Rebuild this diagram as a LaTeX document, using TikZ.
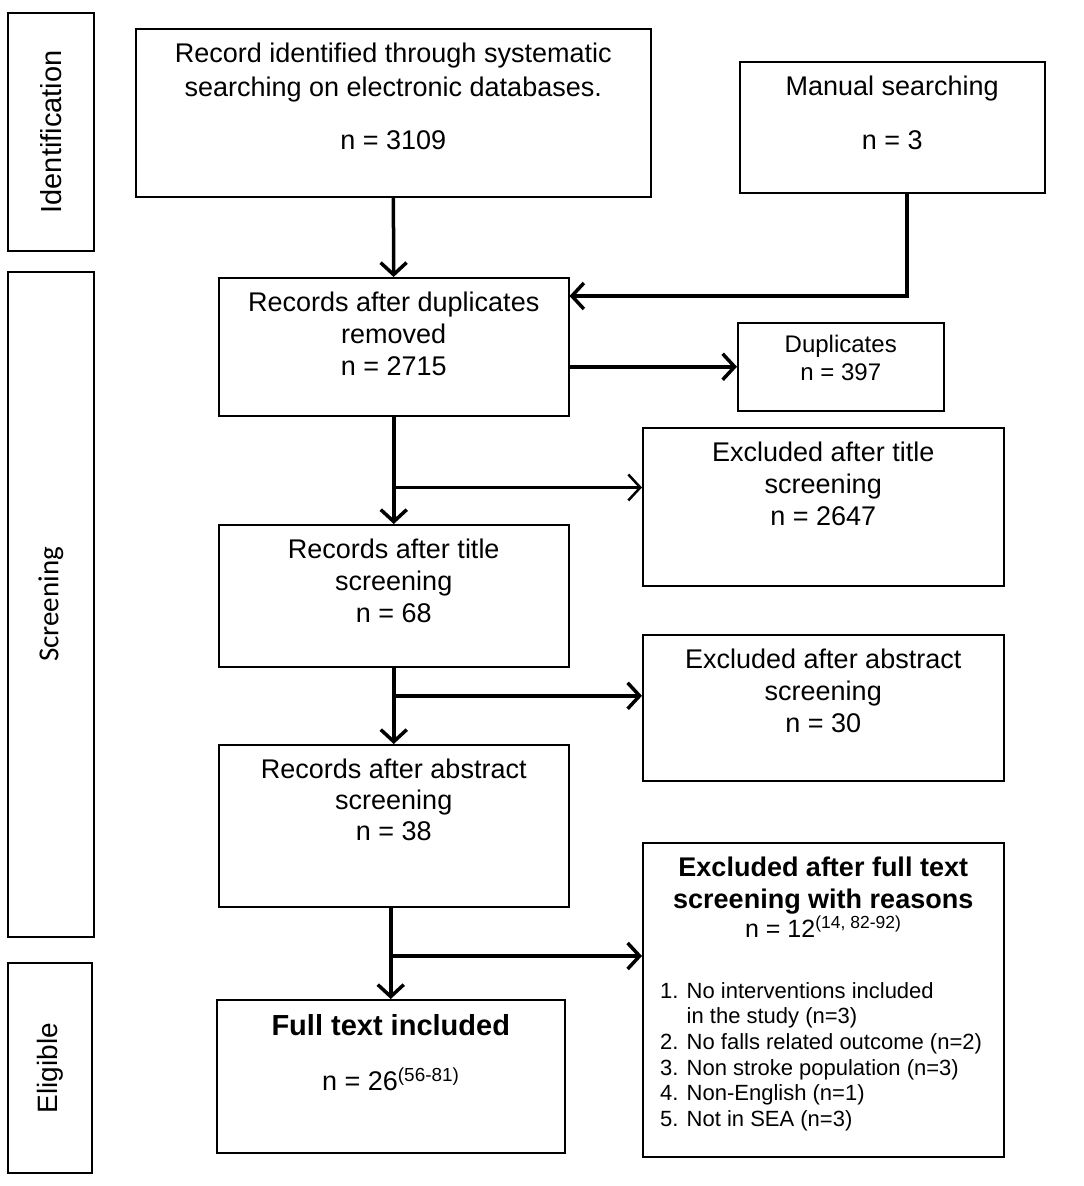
\documentclass[tikz,border=0pt]{standalone}
\usepackage{fontspec}
\setmainfont{Liberation Sans}
\newfontfamily\calibfont{Carlito}
\usetikzlibrary{arrows.meta,calc,positioning}

\tikzset{
box/.style={draw,line width=1.5pt,anchor=north west,inner sep=0pt},
side/.style={draw,line width=1.5pt,inner sep=0pt,rotate=90},
txt/.style={anchor=north,inner sep=0pt,align=center,yshift=-15pt,font=\fontsize{27}{32}\selectfont},
conn/.style={line width=3.5pt,-{Straight Barb[length=12pt,width=26pt]}}
}

\begin{document}
\begin{tikzpicture}[x=1pt,y=-1pt]
\useasboundingbox[fill=white](0,0) rectangle (1084,1186);
\node[side,minimum width=238pt,minimum height=86pt,font=\fontsize{29}{34}\selectfont] (ident) at (51,132) {Identification};
\node[side,minimum width=665pt,minimum height=86pt,font=\calibfont\fontsize{29}{34}\selectfont] (screen) at (51,604.5) {Screening};
\node[side,minimum width=210pt,minimum height=84pt,font=\fontsize{28}{32}\selectfont] (elig) at (50,1068) {Eligible};

\node[box,minimum width=515pt,minimum height=168pt,
label={[txt,font=\fontsize{27}{34}\selectfont]north:Record identified through systematic\\searching on electronic databases.\\[19pt]n = 3109}] (rec) at (135,28) {};
\node[box,minimum width=305pt,minimum height=131pt,
label={[txt]north:Manual searching\\[22pt]n = 3}] (manual) at (739,61) {};
\node[box,minimum width=350pt,minimum height=138pt,
label={[txt]north:Records after duplicates\\removed\\n = 2715}] (dup) at (218,277) {};
\node[box,minimum width=206pt,minimum height=88pt,
label={[txt,yshift=2pt,font=\fontsize{24}{28}\selectfont]north:Duplicates\\n = 397}] (dupl) at (737,322) {};
\node[box,minimum width=361pt,minimum height=158pt,
label={[txt]north:Excluded after title\\screening\\n = 2647}] (extitle) at (642,427) {};
\node[box,minimum width=350pt,minimum height=142pt,
label={[txt]north:Records after title\\screening\\n = 68}] (title) at (218,524) {};
\node[box,minimum width=361pt,minimum height=146pt,
label={[txt]north:Excluded after abstract\\screening\\n = 30}] (exabs) at (642,634) {};
\node[box,minimum width=350pt,minimum height=162pt,
label={[txt,font=\fontsize{27}{31}\selectfont]north:Records after abstract\\screening\\n = 38}] (abs) at (218,744) {};
\node[box,minimum width=361pt,minimum height=314pt,
label={[txt,font=\fontsize{27}{32}\selectfont\bfseries]north:Excluded after full text\\screening with reasons\\[-3pt]\mdseries\fontsize{25}{30}\selectfont n = 12\textsuperscript{(14, 82-92)}},
label={[anchor=north west,inner sep=0pt,align=left,xshift=18pt,yshift=-140pt,font=\fontsize{22}{25.7}\selectfont]north west:1. No interventions included\\\hphantom{1. }in the study (n=3)\\2. No falls related outcome (n=2)\\3. Non stroke population (n=3)\\4. Non-English (n=1)\\5. Not in SEA (n=3)}] (exfull) at (642,842) {};
\node[box,minimum width=348pt,minimum height=153pt,
label={[txt,font=\fontsize{29}{55}\selectfont]north:\textbf{Full text included}\\\fontsize{27}{32}\selectfont n = 26\textsuperscript{(56-81)}}] (full) at (216,999) {};

\draw[conn](rec)--(dup);
\draw[conn]([xshift=14.5pt]manual.south)|-([yshift=-19pt]dup.north east);
\draw[conn](dup.east|-dupl.west)--(dupl.west);
\draw[conn](dup)--(title);
\coordinate (br1) at ($(dup.south)!0.66!(title.north)$);
\draw[line width=2.5pt,-{Straight Barb[length=12pt,width=26pt]}](br1)--(br1-|extitle.west);
\draw[conn](title)--(abs);
\coordinate (br2) at ($(title.south)!0.37!(abs.north)$);
\draw[conn](br2)--(br2-|exabs.west);
\draw[conn](abs.south-|full.north)--(full.north);
\coordinate (br3) at ($(abs.south-|full.north)!0.53!(full.north)$);
\draw[conn](br3)--(br3-|exfull.west);
\end{tikzpicture}
\end{document}
